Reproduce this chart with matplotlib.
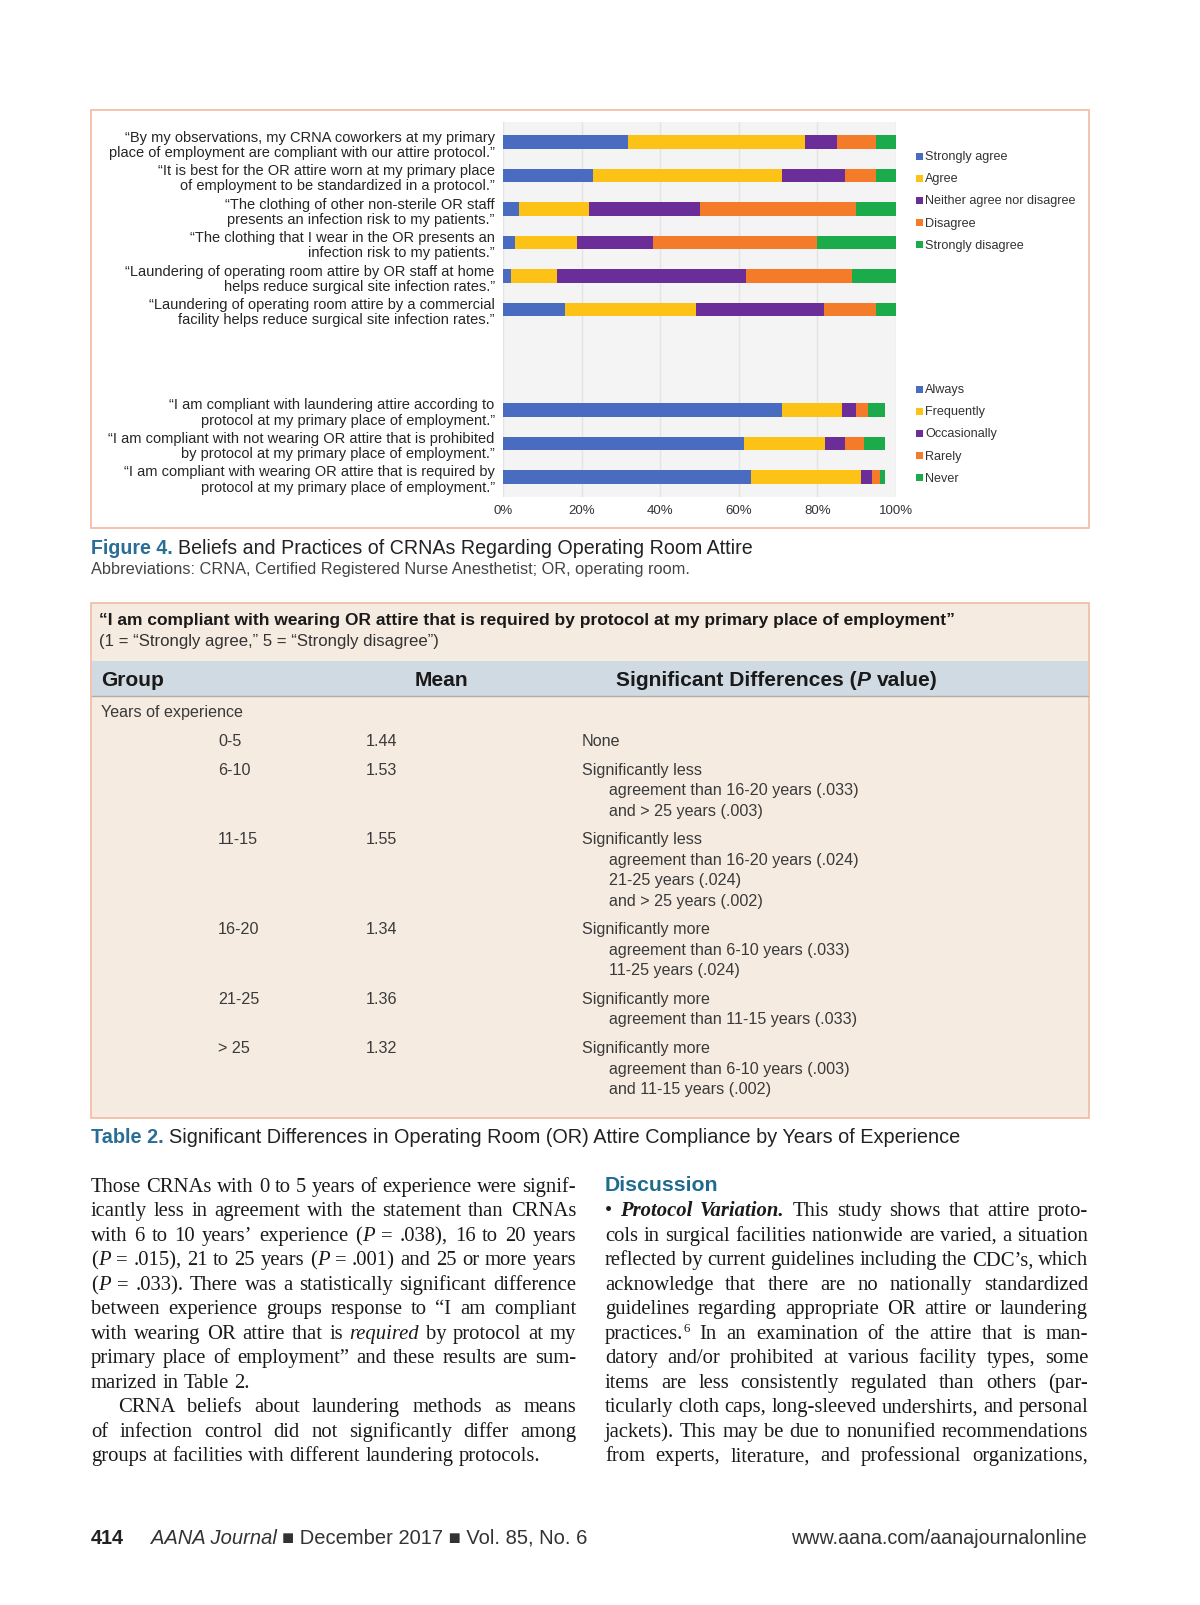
import re

import matplotlib
matplotlib.use("Agg")
import matplotlib.pyplot as plt
import numpy as np
from matplotlib import font_manager as fm
from matplotlib.font_manager import FontProperties
from matplotlib.patches import Rectangle

W, H = 1200, 1606


def pick(*names):
    for n in names:
        try:
            fm.findfont(FontProperties(family=n), fallback_to_default=False)
            return n
        except ValueError:
            pass
    return "DejaVu Sans"


SANS = pick("Liberation Sans", "DejaVu Sans")
NARROW = pick("Liberation Sans Narrow", "Liberation Sans")
SERIF = pick("Liberation Serif", "DejaVu Serif")
plt.rcParams["font.family"] = [SANS, "DejaVu Sans"]

# ---- Figure 4 data (% of respondents) ----
belief_labels = [
    "\u201cBy my observations, my CRNA coworkers at my primary\nplace of employment are compliant with our attire protocol.\u201d",
    "\u201cIt is best for the OR attire worn at my primary place\nof employment to be standardized in a protocol.\u201d",
    "\u201cThe clothing of other non-sterile OR staff\npresents an infection risk to my patients.\u201d",
    "\u201cThe clothing that I wear in the OR presents an\ninfection risk to my patients.\u201d",
    "\u201cLaundering of operating room attire by OR staff at home\nhelps reduce surgical site infection rates.\u201d",
    "\u201cLaundering of operating room attire by a commercial\nfacility helps reduce surgical site infection rates.\u201d",
]
practice_labels = [
    "\u201cI am compliant with laundering attire according to\nprotocol at my primary place of employment.\u201d",
    "\u201cI am compliant with not wearing OR attire that is prohibited\nby protocol at my primary place of employment.\u201d",
    "\u201cI am compliant with wearing OR attire that is required by\nprotocol at my primary place of employment.\u201d",
]
agree_levels = ["Strongly agree", "Agree", "Neither agree nor disagree", "Disagree", "Strongly disagree"]
freq_levels = ["Always", "Frequently", "Occasionally", "Rarely", "Never"]

strongly_agree = [31.8, 22.9, 4.1, 3.0, 2.0, 15.9]
agree = [45.0, 48.1, 17.8, 15.8, 11.8, 33.1]
neither = [8.3, 16.1, 28.2, 19.4, 48.1, 32.8]
disagree = [9.9, 7.9, 39.7, 41.8, 27.0, 13.1]
strongly_disagree = [5.0, 5.0, 10.2, 20.0, 11.1, 5.1]

always = [71.0, 61.2, 63.0]
frequently = [15.3, 20.8, 28.0]
occasionally = [3.6, 5.1, 2.9]
rarely = [3.0, 4.8, 2.1]
never = [4.2, 5.2, 1.1]

COLORS = ["#4a6cc0", "#fdc216", "#6b2e99", "#f47b29", "#1cab4b"]
ticks = [0, 20, 40, 60, 80, 100]

# ---- Table 2 data ----
groups = ["0-5", "6-10", "11-15", "16-20", "21-25", "> 25"]
means = ["1.44", "1.53", "1.55", "1.34", "1.36", "1.32"]
differences = [
    ["None"],
    ["Significantly less", "agreement than 16-20 years (.033)", "and > 25 years (.003)"],
    ["Significantly less", "agreement than 16-20 years (.024)", "21-25 years (.024)", "and > 25 years (.002)"],
    ["Significantly more", "agreement than 6-10 years (.033)", "11-25 years (.024)"],
    ["Significantly more", "agreement than 11-15 years (.033)"],
    ["Significantly more", "agreement than 6-10 years (.003)", "and 11-15 years (.002)"],
]

# ---- body text (*italic*, %bold italic%, ^superscript^) ----
left_col = [
    "Those CRNAs with 0 to 5 years of experience were signif-",
    "icantly less in agreement with the statement than CRNAs",
    "with 6 to 10 years\u2019 experience (*P* = .038), 16 to 20 years",
    "(*P* = .015), 21 to 25 years (*P* = .001) and 25 or more years",
    "(*P* = .033). There was a statistically significant difference",
    "between experience groups response to \u201cI am compliant",
    "with wearing OR attire that is *required* by protocol at my",
    "primary place of employment\u201d and these results are sum-",
    "marized in Table 2.",
    "CRNA beliefs about laundering methods as means",
    "of infection control did not significantly differ among",
    "groups at facilities with different laundering protocols.",
]
left_last = {8, 11}
left_indent = {9}
right_col = [
    "\u2022 %Protocol% %Variation.% This study shows that attire proto-",
    "cols in surgical facilities nationwide are varied, a situation",
    "reflected by current guidelines including the CDC\u2019s, which",
    "acknowledge that there are no nationally standardized",
    "guidelines regarding appropriate OR attire or laundering",
    "practices.^6^ In an examination of the attire that is man-",
    "datory and/or prohibited at various facility types, some",
    "items are less consistently regulated than others (par-",
    "ticularly cloth caps, long-sleeved undershirts, and personal",
    "jackets). This may be due to nonunified recommendations",
    "from experts, literature, and professional organizations,",
]

BLUE_HEAD = "#2a6e96"
SALMON = "#f2bfa6"

fig = plt.figure(figsize=(W / 100, H / 100), dpi=100)
page = fig.add_axes([0, 0, 1, 1])
page.set_xlim(0, W)
page.set_ylim(H, 0)
page.axis("off")
renderer = fig.canvas.get_renderer()


def fp(family=SANS, size=10, weight="normal", style="normal"):
    return FontProperties(family=family, size=size, weight=weight, style=style)


def tw(s, prop):
    return renderer.get_text_width_height_descent(s, prop, ismath=False)[0]


def space_w(prop):
    return tw("a a", prop) - tw("aa", prop)


def draw_runs(x, y, runs, target=None, ha="left"):
    # runs: (text, color, fontprops kwargs); a leading space in text means a word gap
    props = [fp(**kw) for _, _, kw in runs]
    total = sum(tw(t.strip(), p) + (space_w(p) if t.startswith(" ") else 0)
                for (t, _, _), p in zip(runs, props))
    if target:
        k = target / total
        props = [fp(**{**kw, "size": kw.get("size", 10) * k}) for _, _, kw in runs]
        total = target
    if ha == "center":
        x -= total / 2
    elif ha == "right":
        x -= total
    for (t, c, _), p in zip(runs, props):
        if t.startswith(" "):
            x += space_w(p)
        page.text(x, y, t.strip(), fontproperties=p, color=c, va="baseline", ha="left")
        x += tw(t.strip(), p)
    return props


def fitted(text, target, **kw):
    base = fp(**{**kw, "size": 10})
    return 10 * target / tw(text, base)


# ---- Figure 4 box ----
page.add_patch(Rectangle((91, 111), 998, 418, facecolor="white", edgecolor=SALMON, lw=1.3))

ax = fig.add_axes([503 / W, 1 - 498 / H, 393 / W, 375 / H])
belief_y = np.arange(len(belief_labels))
practice_y = np.arange(len(practice_labels)) + 8
left = np.zeros(len(belief_y))
for vals, c in zip([strongly_agree, agree, neither, disagree, strongly_disagree], COLORS):
    ax.barh(belief_y, vals, left=left, height=0.4, color=c, lw=0)
    left += np.array(vals)
left = np.zeros(len(practice_y))
for vals, c in zip([always, frequently, occasionally, rarely, never], COLORS):
    ax.barh(practice_y, vals, left=left, height=0.4, color=c, lw=0)
    left += np.array(vals)

ax.set_xlim(0, 100)
ax.set_ylim(10.6, -0.6)
ax.set_facecolor("#f4f4f4")
ax.set_xticks(ticks)
ax.set_xticklabels([f"{t}%" for t in ticks])
ax.set_yticks(list(belief_y) + list(practice_y))
ax.set_yticklabels(belief_labels + practice_labels, fontsize=10.5, color="#252525", linespacing=1.12)
ax.tick_params(axis="x", length=0, labelsize=9.5, labelcolor="#333333", pad=5)
ax.tick_params(axis="y", length=0, pad=6)
ax.grid(axis="x", color="#e4e4e4", lw=1)
ax.set_axisbelow(True)
for s in ax.spines.values():
    s.set_visible(False)

for levels, y0 in [(agree_levels, 157), (freq_levels, 390)]:
    for i, (lab, c) in enumerate(zip(levels, COLORS)):
        yy = y0 + 22.2 * i
        page.add_patch(Rectangle((916, yy - 3.5), 7, 7, facecolor=c, lw=0))
        page.text(925, yy, lab, fontsize=9.1, color="#333333", va="center", ha="left")

draw_runs(91, 554, [("Figure 4.", BLUE_HEAD, dict(family=NARROW, weight="bold", size=13)),
                    ("  Beliefs and Practices of CRNAs Regarding Operating Room Attire", "#222222",
                     dict(family=NARROW, size=13))], target=659)
draw_runs(91, 574, [("Abbreviations: CRNA, Certified Registered Nurse Anesthetist; OR, operating room.",
                     "#444444", dict(family=NARROW, size=10.5))], target=606)

# ---- Table 2 ----
page.add_patch(Rectangle((91, 604), 998, 515, facecolor="#f5ebe1", edgecolor=SALMON, lw=1.3))
page.add_patch(Rectangle((91.7, 662), 996.6, 35, facecolor="#d0dae3", lw=0))
page.plot([91.7, 1088.3], [697, 697], color="#b2aca6", lw=1)

draw_runs(99, 625, [("\u201cI am compliant with wearing OR attire that is required by protocol at my primary place of employment\u201d",
                     "#1a1a1a", dict(family=NARROW, weight="bold", size=11))], target=856)
draw_runs(99, 646, [("(1 = \u201cStrongly agree,\u201d 5 = \u201cStrongly disagree\u201d)", "#333333",
                     dict(family=NARROW, size=10.5))], target=343)

hs = fitted("Significant Differences (P value)", 320, family=SANS, weight="bold")
hdr = dict(family=SANS, weight="bold", size=hs)
draw_runs(101, 686, [("Group", "#1a1a1a", hdr)])
draw_runs(441, 686, [("Mean", "#1a1a1a", hdr)], ha="center")
draw_runs(777, 686, [("Significant Differences (", "#1a1a1a", hdr),
                     ("P", "#1a1a1a", {**hdr, "style": "italic"}),
                     (" value)", "#1a1a1a", hdr)], ha="center")

bs = fitted("agreement than 16-20 years (.033)", 250, family=NARROW)
body_t = fp(family=NARROW, size=bs)
TC = "#3a3a3a"
page.text(101, 717, "Years of experience", fontproperties=body_t, color=TC, va="baseline")
y = 746
for g, m, diff in zip(groups, means, differences):
    page.text(218, y, g, fontproperties=body_t, color=TC, va="baseline")
    page.text(366, y, m, fontproperties=body_t, color=TC, va="baseline")
    for j, line in enumerate(diff):
        page.text(582 if j == 0 else 609, y, line, fontproperties=body_t, color=TC, va="baseline")
        if j < len(diff) - 1:
            y += 20.4
    y += 28.8

draw_runs(91, 1143, [("Table 2.", BLUE_HEAD, dict(family=NARROW, weight="bold", size=13)),
                     ("  Significant Differences in Operating Room (OR) Attire Compliance by Years of Experience",
                      "#222222", dict(family=NARROW, size=13))], target=867)

# ---- body text, justified ----
BODY = 14.9
SEG = re.compile(r"(\*[^*]+\*|\^[^^]+\^|%[^%]+%)")


def body_fonts(size):
    return {
        "n": fp(family=SERIF, size=size),
        "i": fp(family=SERIF, size=size, style="italic"),
        "bi": fp(family=SERIF, size=size, style="italic", weight="bold"),
        "sup": fp(family=SERIF, size=size * 0.62),
    }


def segments(word):
    out = []
    for part in SEG.split(word):
        if not part:
            continue
        if part[0] == "*":
            out.append((part[1:-1], "i"))
        elif part[0] == "^":
            out.append((part[1:-1], "sup"))
        elif part[0] == "%":
            out.append((part[1:-1], "bi"))
        else:
            out.append((part, "n"))
    return out


def set_line(x0, x1, yb, line, justify=True, indent=0):
    segs = [segments(w) for w in line.split()]
    size = BODY
    while True:
        fps = body_fonts(size)
        widths = [sum(tw(t, fps[s]) for t, s in sg) for sg in segs]
        min_gap = 0.6 * space_w(fps["n"])
        if sum(widths) + min_gap * (len(segs) - 1) <= x1 - x0 - indent or size < 10:
            break
        size -= 0.2
    if justify and len(segs) > 1:
        gap = (x1 - x0 - indent - sum(widths)) / (len(segs) - 1)
    else:
        gap = space_w(fps["n"])
    x = x0 + indent
    for sg, w in zip(segs, widths):
        xx = x
        for t, s in sg:
            page.text(xx, yb - (7 if s == "sup" else 0), t, fontproperties=fps[s],
                      color="#1a1a1a", va="baseline", ha="left")
            xx += tw(t, fps[s])
        x += w + gap


LINE = 24.5
for i, line in enumerate(left_col):
    set_line(91, 576, 1192 + LINE * i, line, justify=i not in left_last,
             indent=27 if i in left_indent else 0)

draw_runs(605, 1191, [("Discussion", "#1f6b8e", dict(family=SANS, weight="bold", size=14))], target=114)
for i, line in enumerate(right_col):
    set_line(605, 1088, 1192 + LINE * (i + 1), line)

# ---- footer ----
draw_runs(91, 1544, [("414", "#222222", dict(family=SANS, weight="bold", size=12))], target=33)
draw_runs(151, 1544, [("AANA Journal", "#333333", dict(family=SANS, style="italic", size=12)),
                      (" \u25a0 December 2017 \u25a0 Vol. 85, No. 6", "#333333", dict(family=SANS, size=12))],
          target=435)
draw_runs(1088, 1544, [("www.aana.com/aanajournalonline", "#333333", dict(family=SANS, size=12))],
          target=297, ha="right")

fig.savefig("out.png", dpi=100)
